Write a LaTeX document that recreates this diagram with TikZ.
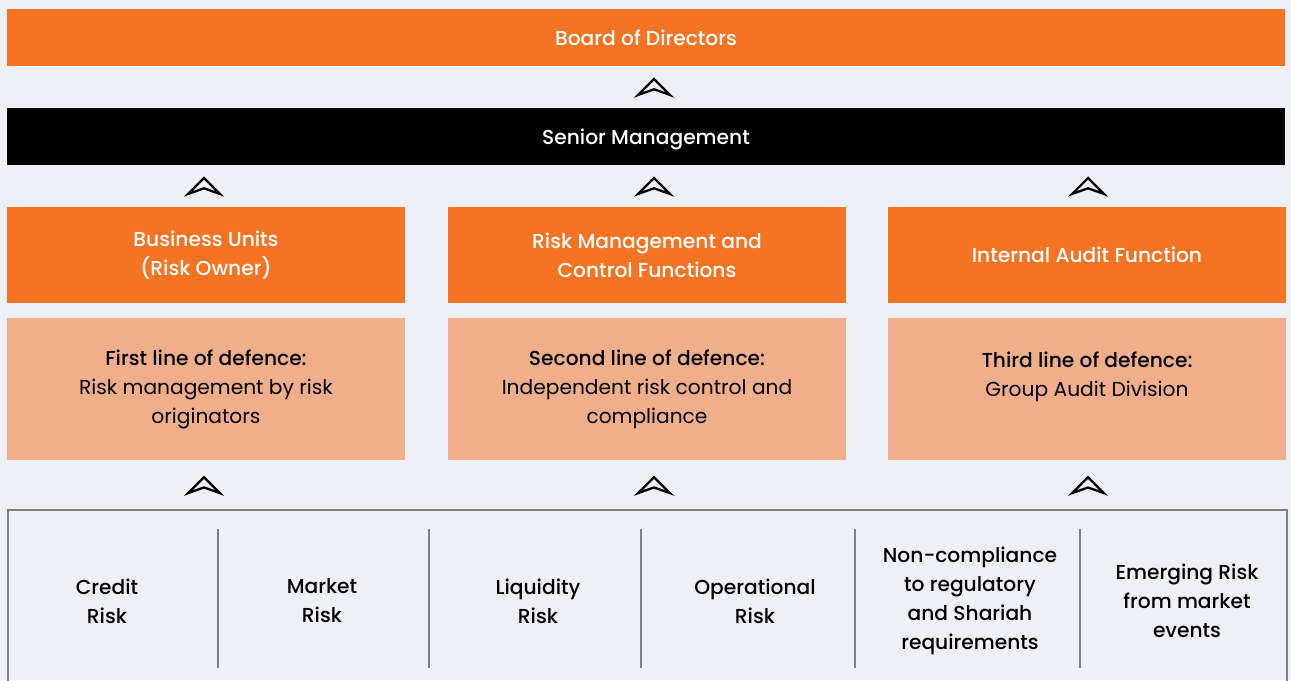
\documentclass[tikz,border=0pt]{standalone}
\usepackage{fontspec}
\setmainfont{Poppins}[BoldFont={Poppins Medium}]
\usetikzlibrary{calc}

\definecolor{pagebg}{HTML}{EFF0F5}
\definecolor{boardorange}{HTML}{F47424}
\definecolor{defencepeach}{HTML}{F0AE8A}
\definecolor{framegray}{HTML}{7F7F7F}

\begin{document}
\begin{tikzpicture}[x=0.02cm,y=-0.02cm,
        bar/.style={fill=boardorange,text=white,minimum width=25.56cm,minimum height=1.14cm,inner sep=0pt,
                text height=9pt,text depth=0pt,font=\fontsize{11.5}{16.5}\selectfont\bfseries},
        unitbox/.style={fill=boardorange,text=white,minimum width=7.96cm,minimum height=1.92cm,inner sep=0pt,
                align=center,font=\fontsize{11.5}{16.5}\selectfont\bfseries},
        linebox/.style={fill=defencepeach,text=black,minimum width=7.96cm,minimum height=2.84cm,inner sep=0pt,
                align=center,font=\fontsize{11.5}{16.5}\selectfont},
        riskcell/.style={text=black,align=center,inner sep=0pt,font=\fontsize{11.5}{16.5}\selectfont\bfseries},
        chevron/.pic={\draw[black,line width=1.3pt,line join=miter]
                (0,4.5pt) -- (-9pt,-4.5pt) -- (0,-1.3pt) -- (9pt,-4.5pt) -- cycle;}]

        % page
        \fill[pagebg] (0,0) rectangle (1291,680);
        \useasboundingbox (0,0) rectangle (1291,680);

        % board and management
        \node[bar] (board) at (646,37.5) {Board of Directors};
        \node[bar,fill=black] (senior) at (646,136.5) {Senior Management};

        % three lines
        \node[unitbox] (bu) at (206,255) {Business Units\\(Risk Owner)};
        \node[unitbox] (rm) at (647,255) {Risk Management and\\Control Functions};
        \node[unitbox] (ia) at (1087,255) {Internal Audit Function};

        \node[linebox] (first) at (206,389) {\textbf{First line of defence:}\\Risk management by risk\\originators};
        \node[linebox] (second) at (647,389) {\textbf{Second line of defence:}\\Independent risk control and\\compliance};
        \node[linebox] (third) at (1087,389) {\textbf{Third line of defence:}\\Group Audit Division\\\phantom{x}};

        % risk types
        \draw[framegray,line width=1.2pt] (8,690) -- (8,510) -- (1287,510) -- (1287,690);
        \coordinate (risktop) at (646,510);
        \foreach \x in {218,429,641,855,1080}
                \draw[framegray,line width=1.2pt] (\x,529) -- (\x,668);

        \node[riskcell] (credit) at (107,601) {Credit\\Risk};
        \node[riskcell] (market) at (322,601) {Market\\Risk};
        \node[riskcell] (liquidity) at (538,601) {Liquidity\\Risk};
        \node[riskcell] (operational) at (755,601) {Operational\\Risk};
        \node[riskcell] (shariah) at (970,601) {Non-compliance\\to regulatory\\and Shariah\\requirements};
        \node[riskcell] (emerging) at (1187,601) {Emerging Risk\\from market\\events};

        % arrows
        \pic at ($(board.south)!0.5!(senior.north)+(8,0)$) {chevron};
        \pic at ($(bu.north)!0.5!(bu.north|-senior.south)-(2,0)$) {chevron};
        \pic at ($(rm.north)!0.5!(rm.north|-senior.south)+(7,0)$) {chevron};
        \pic at ($(ia.north)!0.5!(ia.north|-senior.south)+(1,0)$) {chevron};
        \pic at ($(first.south)!0.5!(first.south|-risktop)-(2,0)$) {chevron};
        \pic at ($(second.south)!0.5!(second.south|-risktop)+(7,0)$) {chevron};
        \pic at ($(third.south)!0.5!(third.south|-risktop)+(1,0)$) {chevron};

    \end{tikzpicture}
\end{document}
